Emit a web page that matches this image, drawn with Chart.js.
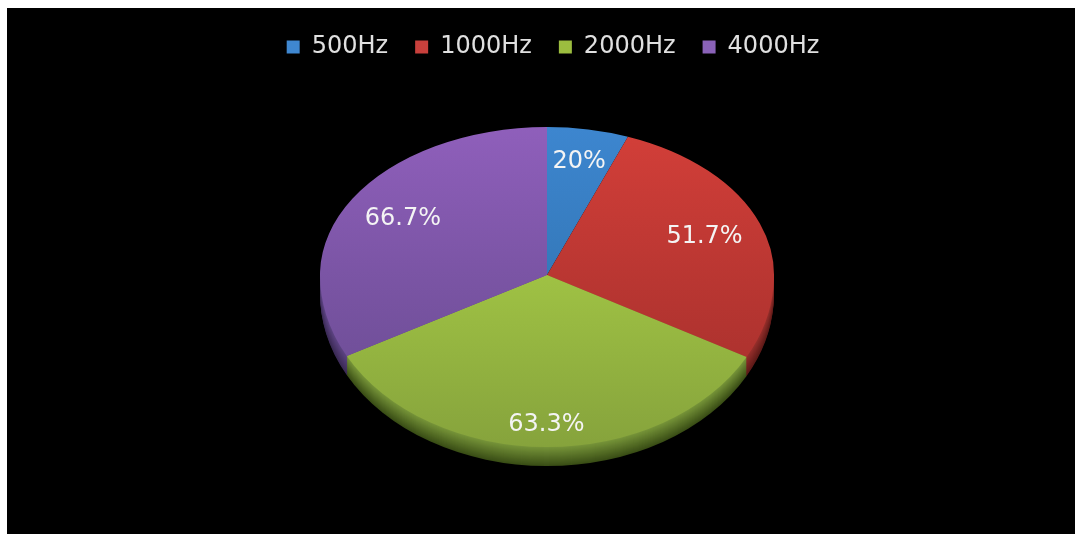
<!DOCTYPE html>
<html>
<head>
<meta charset="utf-8">
<script src="https://cdn.jsdelivr.net/npm/chart.js@4"></script>
<style>
    html, body { margin: 0; background: #fff; overflow: hidden; }
    #wrap { position: absolute; left: 7px; top: 8px; width: 1068px; height: 526px; background: #000; }
</style>
</head>
<body>
<div id="wrap"><canvas id="pieChart" width="1068" height="526"></canvas></div>
<script>
var categories = ['500Hz', '1000Hz', '2000Hz', '4000Hz'];
// printed labels do not add up to the slice sizes in the picture, so both are kept
var printedValues = ['20%', '51.7%', '63.3%', '66.7%'];
var sliceSizes = [5.8, 27.1, 34.3, 32.8];

var legendColors = ['#3f87d0', '#c8403c', '#9cbd3f', '#8a62b8'];
var topColors = [['#3d86cf', '#2c6ca6'], ['#d33f39', '#a12e2b'], ['#b8e04c', '#86a33c'], ['#8f5fbb', '#664a8e']];
var rimColors = [['#24527e', '#15324d'], ['#98302c', '#5c1a18'], ['#78963a', '#3a4e16'], ['#5f4585', '#3a2a54']];

function hexMix(a, b, t) {
    var out = '#';
    for (var i = 1; i < 7; i += 2) {
        var v = Math.round(parseInt(a.substr(i, 2), 16) * (1 - t) + parseInt(b.substr(i, 2), 16) * t);
        out += ('0' + v.toString(16)).slice(-2);
    }
    return out;
}

// Squashes the pie into the tilted look: the centre sits above the middle of the ellipse,
// so the upper and lower halves get their own vertical scale. Adds the rim and the labels.
var tiltPlugin = {
    id: 'tilt',
    beforeDatasetsDraw: function(chart, args, opts) {
        var ctx = chart.ctx;
        var arcs = chart.getDatasetMeta(0).data;
        var w = chart.width, h = chart.height;

        function half(clipTop, clipHeight, scale, shift, drawFn) {
            ctx.save();
            ctx.beginPath();
            ctx.rect(0, clipTop, w, clipHeight);
            ctx.clip();
            ctx.translate(opts.cx - arcs[0].x, opts.cy + shift - arcs[0].y * scale);
            ctx.scale(1, scale);
            drawFn();
            ctx.restore();
        }

        for (var d = opts.depth; d >= 1; d--) {
            half(opts.cy, h - opts.cy, opts.lower, d, function() {
                arcs.forEach(function(el, i) {
                    var saved = el.options;
                    var o = Object.create(saved);
                    o.backgroundColor = hexMix(rimColors[i][0], rimColors[i][1], d / opts.depth);
                    el.options = o;
                    el.draw(ctx);
                    el.options = saved;
                });
            });
        }

        function drawTop() {
            arcs.forEach(function(el) { el.draw(ctx); });
        }
        half(0, opts.cy + 0.5, opts.upper, 0, drawTop);
        half(opts.cy, h - opts.cy, opts.lower, 0, drawTop);

        ctx.save();
        ctx.font = opts.labelFont;
        ctx.fillStyle = '#f4f4f4';
        ctx.textAlign = 'center';
        ctx.textBaseline = 'middle';
        arcs.forEach(function(el, i) {
            var mid = (el.startAngle + el.endAngle) / 2;
            var r = el.outerRadius * opts.labelAt[i];
            var dy = Math.sin(mid) * r;
            ctx.fillText(printedValues[i], opts.cx + Math.cos(mid) * r, opts.cy + dy * (dy < 0 ? opts.upper : opts.lower));
        });
        ctx.restore();
        return false;
    }
};

new Chart(document.getElementById('pieChart'), {
    type: 'pie',
    data: {
        labels: categories,
        datasets: [{
            data: sliceSizes,
            radius: 227,
            borderWidth: 0,
            backgroundColor: function(c) {
                var area = c.chart.chartArea;
                if (!area) return topColors[c.dataIndex][0];
                var mid = (area.top + area.bottom) / 2;
                var g = c.chart.ctx.createLinearGradient(0, mid - 227, 0, mid + 227);
                g.addColorStop(0, topColors[c.dataIndex][0]);
                g.addColorStop(1, topColors[c.dataIndex][1]);
                return g;
            }
        }]
    },
    plugins: [tiltPlugin],
    options: {
        responsive: false,
        animation: false,
        layout: { padding: { top: 0, left: 24 } },
        plugins: {
            tooltip: { enabled: false },
            legend: {
                position: 'top',
                labels: {
                    color: '#e0e0e0',
                    font: { family: '"DejaVu Sans"', size: 24 },
                    boxWidth: 13,
                    boxHeight: 13,
                    padding: 27,
                    generateLabels: function(chart) {
                        return categories.map(function(name, i) {
                            return { text: name, fillStyle: legendColors[i], lineWidth: 0, strokeStyle: 'transparent', fontColor: '#e0e0e0', index: i };
                        });
                    }
                }
            },
            tilt: {
                cx: 540, cy: 267,
                upper: 148 / 227, lower: 172 / 227,
                depth: 19,
                labelAt: [0.78, 0.74, 0.87, 0.74],
                labelFont: '24px "DejaVu Sans"'
            }
        }
    }
});
</script>
</body>
</html>
